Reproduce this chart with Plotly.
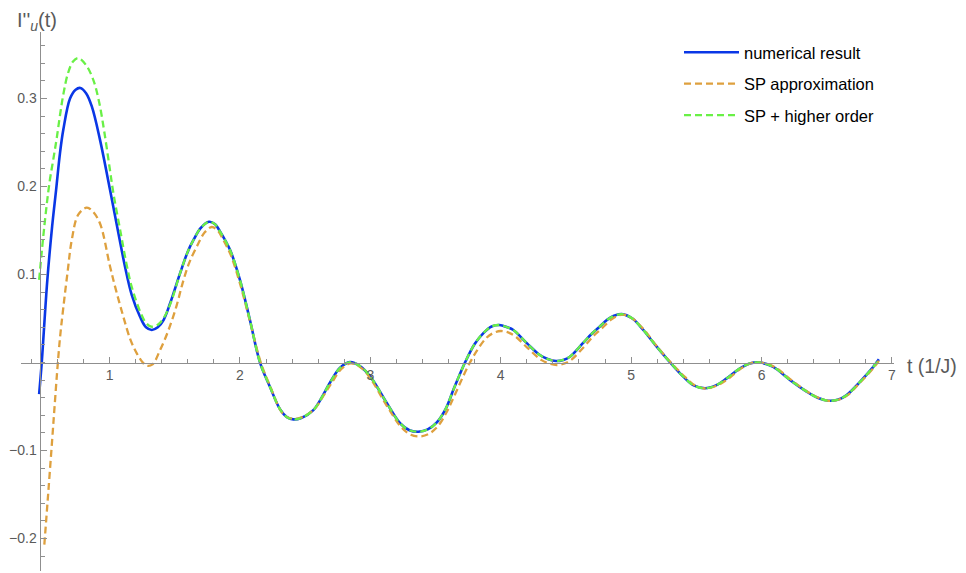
import plotly.graph_objects as go

# ---------------- data ----------------
t_num = [0.46, 0.48, 0.523, 0.56, 0.59, 0.62, 0.646, 0.697, 0.74, 0.776, 0.82, 0.864,
         0.927, 1.004, 1.068, 1.12, 1.17, 1.234, 1.28, 1.324, 1.37, 1.413, 1.464, 1.54,
         1.6, 1.643, 1.70, 1.763, 1.81, 1.847, 1.924, 2.0, 2.077, 2.154, 2.23, 2.307,
         2.36, 2.41, 2.47, 2.563, 2.63, 2.69, 2.768, 2.844, 2.92, 3.0, 3.126, 3.228,
         3.30, 3.368, 3.44, 3.51, 3.58, 3.637, 3.726, 3.8, 3.867, 3.93, 3.99, 4.05,
         4.097, 4.2, 4.30, 4.36, 4.424, 4.48, 4.53, 4.63, 4.70, 4.76, 4.84, 4.928,
         5.01, 5.093, 5.196, 5.30, 5.40, 5.48, 5.567, 5.65, 5.733, 5.835, 5.91, 5.99,
         6.09, 6.22, 6.346, 6.43, 6.512, 6.59, 6.653, 6.755, 6.857, 6.90]
y_num = [-0.036, 0.0, 0.094, 0.155, 0.196, 0.238, 0.265, 0.300, 0.310, 0.312, 0.306, 0.291,
         0.253, 0.196, 0.147, 0.108, 0.077, 0.052, 0.040, 0.037, 0.040, 0.048, 0.067, 0.101,
         0.126, 0.139, 0.153, 0.160, 0.157, 0.149, 0.128, 0.094, 0.048, 0.0, -0.0275, -0.053,
         -0.062, -0.0646, -0.063, -0.054, -0.039, -0.023, -0.006, 0.0005, -0.004, -0.016, -0.046, -0.069,
         -0.077, -0.0786, -0.076, -0.068, -0.052, -0.031, 0.0, 0.021, 0.0335, 0.041, 0.0426, 0.040,
         0.037, 0.022, 0.0085, 0.004, 0.0017, 0.003, 0.0066, 0.022, 0.033, 0.041, 0.051, 0.055,
         0.050, 0.037, 0.018, 0.0, -0.016, -0.026, -0.0293, -0.026, -0.018, -0.0066, -0.001, 0.0,
         -0.005, -0.02, -0.033, -0.040, -0.0434, -0.042, -0.037, -0.022, -0.005, 0.0036]

t_sp = [0.50, 0.53, 0.56, 0.58, 0.60, 0.62, 0.646, 0.68, 0.71, 0.76, 0.825, 0.87,
        0.927, 1.004, 1.05, 1.106, 1.16, 1.209, 1.25, 1.285, 1.33, 1.387, 1.45, 1.515,
        1.56, 1.61, 1.68, 1.73, 1.784, 1.83, 1.87, 1.93, 2.0, 2.08, 2.16, 2.24,
        2.31, 2.36, 2.42, 2.48, 2.57, 2.64, 2.70, 2.78, 2.85, 2.93, 3.0, 3.13,
        3.24, 3.31, 3.38, 3.45, 3.52, 3.59, 3.65, 3.75, 3.82, 3.89, 3.95, 4.0,
        4.06, 4.11, 4.21, 4.31, 4.37, 4.43, 4.49, 4.54, 4.64, 4.71, 4.77, 4.85,
        4.935, 5.01, 5.10, 5.20, 5.305, 5.41, 5.49, 5.575, 5.66, 5.74, 5.84, 5.915,
        5.995, 6.10, 6.23, 6.35, 6.435, 6.515, 6.595, 6.66, 6.76, 6.86, 6.90]
y_sp = [-0.207, -0.148, -0.088, -0.047, -0.007, 0.028, 0.063, 0.105, 0.139, 0.168, 0.176, 0.172,
        0.158, 0.109, 0.082, 0.052, 0.026, 0.0104, 0.001, -0.0036, -0.002, 0.014, 0.036, 0.065,
        0.090, 0.113, 0.135, 0.148, 0.154, 0.150, 0.140, 0.122, 0.090, 0.045, 0.0, -0.030,
        -0.054, -0.062, -0.064, -0.062, -0.053, -0.038, -0.024, -0.007, -0.001, -0.006, -0.018, -0.050,
        -0.074, -0.082, -0.084, -0.081, -0.072, -0.055, -0.036, -0.004, 0.014, 0.028, 0.034, 0.0358,
        0.034, 0.030, 0.016, 0.003, -0.001, -0.0028, -0.001, 0.003, 0.018, 0.030, 0.038, 0.049,
        0.0545, 0.050, 0.037, 0.018, 0.0, -0.016, -0.026, -0.0295, -0.026, -0.019, -0.007, -0.001,
        0.0, -0.005, -0.02, -0.033, -0.040, -0.0436, -0.042, -0.037, -0.022, -0.006, 0.002]

t_ho = [0.46, 0.50, 0.54, 0.57, 0.595, 0.62, 0.646, 0.68, 0.72, 0.761, 0.82, 0.876,
        0.92, 0.96, 1.0, 1.03, 1.086, 1.13, 1.17, 1.24, 1.28, 1.32, 1.37, 1.413,
        1.47, 1.54, 1.6, 1.643, 1.70, 1.763, 1.81, 1.847, 1.924, 2.0, 2.077, 2.154,
        2.23, 2.307, 2.36, 2.41, 2.47, 2.563, 2.63, 2.69, 2.768, 2.844, 2.92, 3.0,
        3.126, 3.228, 3.30, 3.368, 3.44, 3.51, 3.58, 3.637, 3.726, 3.8, 3.867, 3.93,
        3.99, 4.05, 4.097, 4.2, 4.30, 4.36, 4.424, 4.48, 4.53, 4.63, 4.70, 4.76,
        4.84, 4.928, 5.01, 5.093, 5.196, 5.30, 5.40, 5.48, 5.567, 5.65, 5.733, 5.835,
        5.91, 5.99, 6.09, 6.22, 6.346, 6.43, 6.512, 6.59, 6.653, 6.755, 6.857, 6.90]
y_ho = [0.094, 0.155, 0.205, 0.232, 0.255, 0.281, 0.305, 0.328, 0.342, 0.346, 0.338, 0.321,
        0.296, 0.262, 0.222, 0.192, 0.147, 0.112, 0.086, 0.056, 0.045, 0.0407, 0.043, 0.050,
        0.068, 0.101, 0.126, 0.139, 0.153, 0.160, 0.157, 0.149, 0.128, 0.094, 0.048, 0.0,
        -0.0275, -0.053, -0.062, -0.0646, -0.063, -0.054, -0.039, -0.023, -0.006, 0.0005, -0.004, -0.016,
        -0.046, -0.069, -0.077, -0.0786, -0.076, -0.068, -0.052, -0.031, 0.0, 0.021, 0.0335, 0.041,
        0.0426, 0.040, 0.037, 0.022, 0.0085, 0.004, 0.0017, 0.003, 0.0066, 0.022, 0.033, 0.041,
        0.051, 0.055, 0.050, 0.037, 0.018, 0.0, -0.016, -0.026, -0.0293, -0.026, -0.018, -0.0066,
        -0.001, 0.0, -0.005, -0.02, -0.033, -0.040, -0.0434, -0.042, -0.037, -0.022, -0.005, 0.0036]

names = ["numerical result", "SP approximation", "SP + higher order"]
x_ticks = [1, 2, 3, 4, 5, 6, 7]
y_ticks = [-0.2, -0.1, 0.1, 0.2, 0.3]

# ---------------- layout geometry (page body adds an 8px offset) ----------------
OFF = 8
W, H = 966 - OFF, 573 - OFF
L, R, T, B = 21 - OFF, 894 - OFF, 32 - OFF, 571 - OFF   # plot area, figure pixels
x_rng = [0.321, 7.016]
y_rng = [-0.2369, 0.3756]
y_axis_at = 0.463                                       # where the vertical axis crosses


def px_x(p):
    """screen px -> paper x"""
    return (p - OFF - L) / (R - L)


def px_y(p):
    """screen px -> paper y"""
    return (B - (p - OFF)) / (B - T)


FONT = "Liberation Sans, Arial, sans-serif"
AX = "#8f8f8f"
LAB = "#5a5a5a"
SM = 1.0

fig = go.Figure()
fig.add_trace(go.Scatter(x=t_num, y=y_num, name=names[0], mode="lines",
                         line=dict(color="rgb(10,55,230)", width=2.6, shape="spline", smoothing=SM)))
fig.add_trace(go.Scatter(x=t_sp, y=y_sp, name=names[1], mode="lines",
                         line=dict(color="rgb(222,160,62)", width=2.3, dash="7px,4px",
                                   shape="spline", smoothing=SM)))
fig.add_trace(go.Scatter(x=t_ho, y=y_ho, name=names[2], mode="lines",
                         line=dict(color="rgb(105,240,70)", width=2.3, dash="7px,4px",
                                   shape="spline", smoothing=SM)))

fig.update_layout(
    width=W, height=H, autosize=False,
    margin=dict(l=L, r=W - R, t=T, b=H - B, pad=0),
    paper_bgcolor="white", plot_bgcolor="white",
    font=dict(family=FONT, color=LAB, size=14),
    xaxis=dict(range=x_rng, anchor="free",
               position=(0 - y_rng[0]) / (y_rng[1] - y_rng[0]),
               showline=True, linecolor=AX, linewidth=1, showgrid=False, zeroline=False,
               tickmode="array", tickvals=x_ticks, ticktext=[str(v) for v in x_ticks],
               ticks="inside", ticklen=6, tickcolor=AX, tickwidth=1,
               tickfont=dict(size=14, color=LAB),
               minor=dict(tickmode="linear", tick0=0, dtick=0.2, ticks="inside",
                          ticklen=4, tickcolor=AX, showgrid=False)),
    yaxis=dict(range=y_rng, anchor="free",
               position=(y_axis_at - x_rng[0]) / (x_rng[1] - x_rng[0]),
               showline=True, linecolor=AX, linewidth=1, showgrid=False, zeroline=False,
               tickmode="array", tickvals=y_ticks,
               ticks="inside", ticklen=6, tickcolor=AX, tickwidth=1,
               tickfont=dict(size=14, color=LAB),
               minor=dict(tickmode="linear", tick0=0, dtick=0.02, ticks="inside",
                          ticklen=4, tickcolor=AX, showgrid=False)),
    legend=dict(x=px_x(679), y=px_y(35), xanchor="left", yanchor="top",
                bgcolor="rgba(0,0,0,0)", font=dict(size=16.5, color="black", family=FONT),
                itemwidth=55, tracegroupgap=7),
    showlegend=True,
    annotations=[
        dict(text="I''<sub><i>u</i></sub>(t)", xref="paper", yref="paper",
             x=px_x(16), y=px_y(8.5), xanchor="left", yanchor="top", showarrow=False,
             borderpad=0, font=dict(size=20, color=LAB, family=FONT)),
        dict(text="t (1/J)", xref="paper", yref="paper",
             x=px_x(905), y=px_y(366), xanchor="left", yanchor="middle", showarrow=False,
             font=dict(size=19.5, color=LAB, family=FONT)),
    ],
)
for i, tr in enumerate(fig.data):
    tr.legendgroup = f"g{i}"

fig.write_html("out.html")
